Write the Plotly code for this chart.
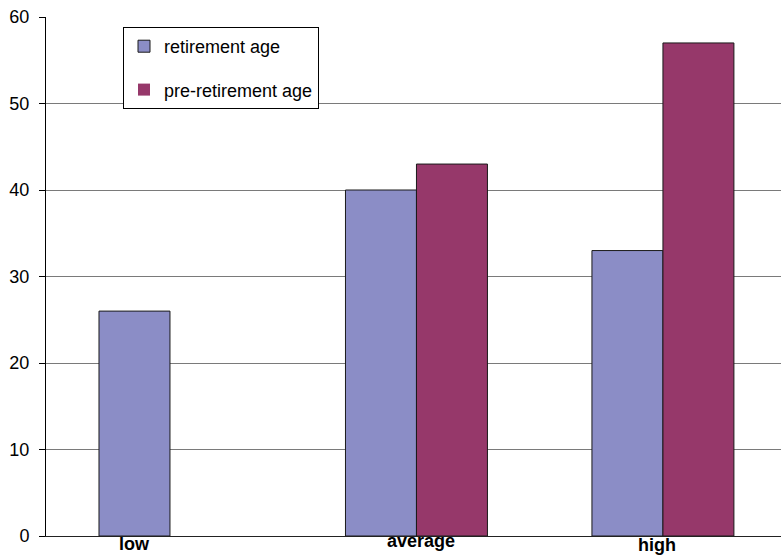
import plotly.graph_objects as go

# Survey results by level
categories = ["low", "average", "high"]
retirement_age = [26, 40, 33]
pre_retirement_age = [0, 43, 57]
series_names = ["retirement age", "pre-retirement age"]
y_ticks = [0, 10, 20, 30, 40, 50, 60]

COL_RET = "#8B8DC6"
COL_PRE = "#96386A"
FONT = "Arial, Liberation Sans, sans-serif"


def outline(values):
    # no outline on empty bars, so nothing is drawn for a zero value
    return dict(color="#1a1a1a", width=[0 if v == 0 else 1 for v in values])


fig = go.Figure()
fig.add_trace(go.Bar(
    x=categories, y=retirement_age, name=series_names[0],
    marker=dict(color=COL_RET, line=outline(retirement_age)),
    legendgroup="a",
))
fig.add_trace(go.Bar(
    x=categories, y=pre_retirement_age, name=series_names[1],
    marker=dict(color=COL_PRE, line=outline(pre_retirement_age)),
    legendgroup="b",
))

# category labels sit just below the baseline, nudged per label
label_shift = {"low": (-35, -8), "average": (5, -5), "high": (-6, -9)}
for c in categories:
    dx, dy = label_shift[c]
    fig.add_annotation(
        x=c, y=0, xref="x", yref="paper", text=f"<b>{c}</b>",
        showarrow=False, xshift=dx, yshift=dy, yanchor="middle",
        font=dict(family=FONT, size=18, color="#000"),
    )

fig.update_layout(
    width=781, height=555,
    margin=dict(l=46, r=0, t=17, b=19),
    paper_bgcolor="white", plot_bgcolor="white",
    barmode="group", bargap=0.424, bargroupgap=0,
    font=dict(family=FONT, size=18, color="#000"),
    showlegend=True,
    legend=dict(
        x=(123 - 46) / 735, y=(536 - 27) / 519, xanchor="left", yanchor="top",
        bgcolor="white", bordercolor="#000", borderwidth=1,
        font=dict(family=FONT, size=18, color="#000"),
        tracegroupgap=17, traceorder="grouped",
        itemwidth=30,
    ),
    xaxis=dict(
        range=[-0.503, 2.479], showticklabels=False, ticks="",
        showgrid=False, showline=True, linecolor="#222", linewidth=1,
        zeroline=False,
    ),
    yaxis=dict(
        range=[0, 60], tickvals=y_ticks, ticks="outside", ticklen=6,
        tickcolor="#000", showline=True, linecolor="#000", linewidth=1,
        showgrid=True, gridcolor="#7a7a7a", gridwidth=1, zeroline=False,
        tickfont=dict(family=FONT, size=18, color="#000"),
        ticklabelstandoff=6,
    ),
)

fig.write_html("out.html")
